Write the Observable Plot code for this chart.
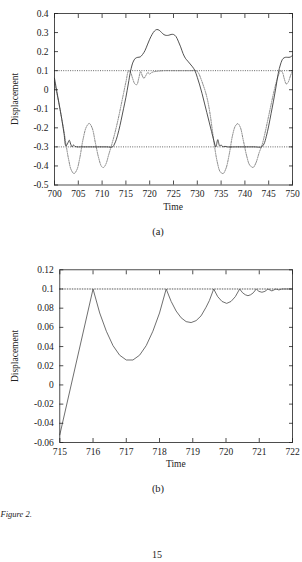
<!DOCTYPE html>
<html>
<head>
<meta charset="utf-8">
<script src="https://cdn.jsdelivr.net/npm/d3@7"></script>
<script src="https://cdn.jsdelivr.net/npm/@observablehq/plot@0.6"></script>
<style>
  html, body { margin: 0; padding: 0; background: #fff; }
  #page { position: relative; width: 302px; height: 562px; overflow: hidden;
          font-family: "Liberation Serif", "Times New Roman", serif; color: #222; }
  #page svg { position: absolute; left: 0; }
  .t { position: absolute; white-space: nowrap; line-height: 1; }
</style>
</head>
<body>
<div id="page"></div>
<script>
// ---- Panel (a): displacement over 700–750 ----
const timeSolidA = [700, 700.5, 701, 701.5, 702, 702.4, 702.8, 703.1, 703.4, 703.7, 704.0, 704.3, 704.7, 705.5, 707, 709, 711, 712.2, 712.6, 713, 713.5, 714, 714.5, 715, 715.5, 716, 716.5, 717, 717.5, 718, 718.5, 719, 719.5, 720, 720.5, 721, 721.5, 722, 722.5, 723, 723.5, 724, 724.5, 725, 725.5, 726, 726.5, 727, 727.5, 728, 728.5, 729, 729.5, 730, 730.5, 731, 731.5, 732, 732.5, 733, 733.5, 733.9, 734.3, 734.7, 735.0, 735.4, 735.8, 736.3, 738, 740, 742, 743.5, 744, 744.5, 745, 745.5, 746, 746.5, 747, 747.5, 748, 748.5, 749, 749.5, 750];
const solidA = [0.06, -0.01, -0.08, -0.15, -0.23, -0.295, -0.28, -0.265, -0.285, -0.3, -0.29, -0.297, -0.3, -0.3, -0.3, -0.3, -0.3, -0.3, -0.285, -0.26, -0.215, -0.16, -0.1, -0.04, 0.03, 0.1, 0.145, 0.165, 0.17, 0.172, 0.185, 0.205, 0.235, 0.265, 0.29, 0.308, 0.316, 0.312, 0.3, 0.289, 0.285, 0.286, 0.29, 0.29, 0.28, 0.255, 0.225, 0.19, 0.165, 0.15, 0.135, 0.12, 0.1, 0.065, 0.025, -0.02, -0.07, -0.12, -0.17, -0.22, -0.27, -0.3, -0.262, -0.295, -0.29, -0.3, -0.297, -0.3, -0.3, -0.3, -0.3, -0.3, -0.285, -0.245, -0.19, -0.125, -0.06, 0.01, 0.085, 0.135, 0.163, 0.17, 0.17, 0.171, 0.18];

const timeDottedA = [700, 700.5, 701, 701.5, 702, 702.5, 703, 703.5, 704.1, 704.7, 705.3, 706, 706.7, 707.3, 707.9, 708.6, 709.3, 709.9, 710.3, 710.8, 711.4, 712, 712.5, 713, 713.5, 714, 714.5, 715, 715.6, 716, 716.4, 716.9, 717.3, 717.7, 718.1, 718.5, 718.8, 719.2, 719.6, 720.0, 720.4, 721, 722, 723, 725, 727, 729, 729.8, 730.3, 730.8, 731.3, 731.7, 732.2, 732.7, 733.2, 733.7, 734.2, 734.8, 735.4, 736, 736.7, 737.4, 738, 738.5, 739, 739.7, 740.4, 741, 741.7, 742.3, 743, 743.6, 744.2, 744.8, 745.4, 746, 746.6, 747.1, 747.5, 747.9, 748.3, 748.7, 749.1, 749.6, 750];
const dottedA = [0.04, -0.02, -0.08, -0.15, -0.22, -0.3, -0.37, -0.42, -0.44, -0.42, -0.36, -0.26, -0.195, -0.177, -0.2, -0.28, -0.36, -0.403, -0.408, -0.39, -0.34, -0.29, -0.245, -0.195, -0.14, -0.08, -0.02, 0.04, 0.1, 0.09, 0.06, 0.03, 0.027, 0.06, 0.095, 0.07, 0.06, 0.075, 0.09, 0.083, 0.09, 0.095, 0.098, 0.1, 0.1, 0.1, 0.1, 0.1, 0.085, 0.055, 0.02, -0.01, -0.06, -0.13, -0.22, -0.31, -0.38, -0.43, -0.44, -0.415, -0.34, -0.24, -0.19, -0.178, -0.195, -0.27, -0.35, -0.395, -0.408, -0.385, -0.33, -0.29, -0.23, -0.16, -0.09, -0.02, 0.04, 0.08, 0.1, 0.09, 0.055, 0.03, 0.04, 0.075, 0.1];

const limitsA = [0.1, -0.3];
const xTicksA = [700, 705, 710, 715, 720, 725, 730, 735, 740, 745, 750];
const yTicksA = [-0.5, -0.4, -0.3, -0.2, -0.1, 0, 0.1, 0.2, 0.3, 0.4];
const yLabelsA = ["-0.5", "-0.4", "-0.3", "-0.2", "-0.1", "0", "0.1", "0.2", "0.3", "0.4"];

// ---- Panel (b): close-up of the approach to the upper limit ----
const timeB = [715, 716, 716.2, 716.4, 716.6, 716.8, 717.0, 717.2, 717.4, 717.6, 717.8, 718.0, 718.2, 718.35, 718.5, 718.65, 718.8, 718.95, 719.1, 719.25, 719.4, 719.5, 719.63, 719.75, 719.88, 720.02, 720.15, 720.28, 720.41, 720.5, 720.58, 720.66, 720.74, 720.82, 720.91, 720.99, 721.08, 721.17, 721.26, 721.38, 721.5, 721.59, 721.68, 722];
const dispB = [-0.052, 0.1, 0.075, 0.056, 0.041, 0.031, 0.026, 0.026, 0.031, 0.041, 0.056, 0.075, 0.1, 0.087, 0.077, 0.07, 0.066, 0.065, 0.067, 0.072, 0.081, 0.088, 0.1, 0.092, 0.087, 0.085, 0.087, 0.092, 0.1, 0.096, 0.094, 0.093, 0.094, 0.096, 0.1, 0.0975, 0.0966, 0.0975, 0.1, 0.098, 0.1, 0.099, 0.1, 0.1];
const limitB = [0.1];
const xTicksB = [715, 716, 717, 718, 719, 720, 721, 722];
const yTicksB = [-0.06, -0.04, -0.02, 0, 0.02, 0.04, 0.06, 0.08, 0.1, 0.12];
const yLabelsB = ["-0.06", "-0.04", "-0.02", "0", "0.02", "0.04", "0.06", "0.08", "0.1", "0.12"];

const ink = "#222";
const page = document.getElementById("page");

function labelOf(ticks, labels) {
  return d => labels[ticks.findIndex(t => Math.abs(t - d) < 1e-9)];
}

function panel({top, height, margins, xDomain, yDomain, xTicks, yTicks, yLabels, marks}) {
  const svg = Plot.plot({
    width: 302,
    height,
    ...margins,
    style: {fontFamily: '"Liberation Serif", serif', fontSize: "9.5px", color: ink, background: "transparent", overflow: "visible"},
    x: {domain: xDomain},
    y: {domain: yDomain},
    marks: [
      ...marks,
      Plot.frame({stroke: ink, strokeWidth: 0.8}),
      // inward tick marks on all four sides
      Plot.axisX(xTicks, {anchor: "bottom", tickSize: -4, tickFormat: () => "", label: null, stroke: ink, strokeWidth: 0.8}),
      Plot.axisX(xTicks, {anchor: "top", tickSize: -4, tickFormat: () => "", label: null, stroke: ink, strokeWidth: 0.8}),
      Plot.axisY(yTicks, {anchor: "left", tickSize: -4, tickFormat: () => "", label: null, stroke: ink, strokeWidth: 0.8}),
      Plot.axisY(yTicks, {anchor: "right", tickSize: -4, tickFormat: () => "", label: null, stroke: ink, strokeWidth: 0.8}),
      // tick labels
      Plot.axisX(xTicks, {anchor: "bottom", tickSize: 0, tickPadding: 5.5, tickFormat: d => String(d), label: null, fill: ink}),
      Plot.axisY(yTicks, {anchor: "left", tickSize: 0, tickPadding: 6, tickFormat: labelOf(yTicks, yLabels), label: null, fill: ink})
    ]
  });
  svg.style.top = top + "px";
  page.appendChild(svg);
}

function text(str, {x, y, size = 9.5, anchor = "middle", rotate = 0, italic = false}) {
  const el = document.createElement("div");
  el.className = "t";
  el.textContent = str;
  el.style.fontSize = size + "px";
  if (italic) el.style.fontStyle = "italic";
  el.style.left = x + "px";
  el.style.top = y + "px";
  const tx = anchor === "middle" ? "-50%" : anchor === "end" ? "-100%" : "0";
  el.style.transformOrigin = "center center";
  el.style.transform = `translate(${tx}, -50%)` + (rotate ? ` rotate(${rotate}deg)` : "");
  page.appendChild(el);
}

const rowsSolidA = timeSolidA.map((t, i) => ({t, v: solidA[i]}));
const rowsDottedA = timeDottedA.map((t, i) => ({t, v: dottedA[i]}));
const rowsB = timeB.map((t, i) => ({t, v: dispB[i]}));

panel({
  top: 0,
  height: 200,
  margins: {marginLeft: 54, marginRight: 10, marginTop: 13, marginBottom: 15.5},
  xDomain: [700, 750],
  yDomain: [-0.5, 0.4],
  xTicks: xTicksA,
  yTicks: yTicksA,
  yLabels: yLabelsA,
  marks: [
    Plot.ruleY(limitsA, {stroke: "#555", strokeWidth: 0.9, strokeDasharray: "1,1.3"}),
    Plot.line(rowsDottedA, {x: "t", y: "v", curve: "catmull-rom", stroke: "#777", strokeWidth: 0.9, strokeDasharray: "1.2,1.2"}),
    Plot.line(rowsSolidA, {x: "t", y: "v", curve: "catmull-rom", stroke: "#333", strokeWidth: 0.85})
  ]
});

panel({
  top: 260,
  height: 200,
  margins: {marginLeft: 59.3, marginRight: 10, marginTop: 9.3, marginBottom: 18},
  xDomain: [715, 722],
  yDomain: [-0.06, 0.12],
  xTicks: xTicksB,
  yTicks: yTicksB,
  yLabels: yLabelsB,
  marks: [
    Plot.ruleY(limitB, {stroke: "#444", strokeWidth: 0.9, strokeDasharray: "1.5,1"}),
    Plot.line(rowsB, {x: "t", y: "v", stroke: "#555", strokeWidth: 0.85})
  ]
});

// axis titles, panel captions and page furniture
text("Displacement", {x: 15.5, y: 98.6, rotate: -90});
text("Time", {x: 173, y: 208.3});
text("(a)", {x: 158, y: 231.7, size: 10.5});
text("Displacement", {x: 15.5, y: 355.7, rotate: -90});
text("Time", {x: 175.8, y: 465});
text("(b)", {x: 158, y: 489.3, size: 10.5});
text("Figure 2.", {x: 0.5, y: 514, size: 8.5, anchor: "start", italic: true});
text("15", {x: 157, y: 555, size: 10});
</script>
</body>
</html>
